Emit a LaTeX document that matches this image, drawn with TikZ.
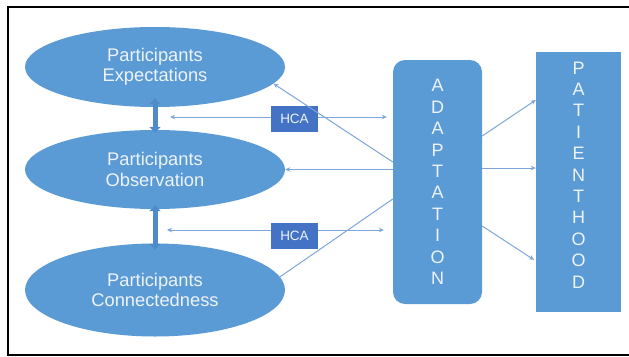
\documentclass[tikz,border=0pt]{standalone}
\usepackage{fontspec}
\setmainfont{Liberation Sans}
\usetikzlibrary{shapes.geometric,arrows.meta}
\definecolor{fillblue}{HTML}{5B9BD5}
\definecolor{hcablue}{HTML}{4472C4}
\definecolor{lineblue}{HTML}{7EA6D8}
\definecolor{dblblue}{HTML}{4F8ACB}
\definecolor{txtwhite}{HTML}{EEF3FA}
\begin{document}
\begin{tikzpicture}[x=1pt,y=-1pt,
  ell/.style={ellipse, fill=fillblue, minimum width=260pt, minimum height=80pt, inner sep=0pt, text=txtwhite, align=center, font=\fontsize{18.3}{20.5}\selectfont},
  hcabox/.style={rectangle, fill=hcablue, minimum width=47pt, minimum height=26pt, inner sep=0pt, text=txtwhite, font=\fontsize{13.5}{14}\selectfont},
  tallbox/.style={fill=fillblue, inner sep=0pt, text=txtwhite, align=center, font=\fontsize{18}{21.4}\selectfont},
  tallText/.style={inner sep=0pt, text=txtwhite, align=center, font=\fontsize{18}{21.4}\selectfont},
  conn/.style={draw=lineblue, line width=1pt},
  tip/.style={-{Stealth[length=5pt,width=4.5pt]}},
  tips/.style={{Stealth[length=5pt,width=4.5pt]}-{Stealth[length=5pt,width=4.5pt]}},
  dbl/.style={draw=dblblue, line width=5pt, {Triangle[length=6pt,width=11pt]}-{Triangle[length=6pt,width=11pt]}}
]
\useasboundingbox (0,0) rectangle (629,356);
\fill[white] (0,0) rectangle (629,356);
\draw[line width=2pt] (629,6.5) -- (7.5,6.5) -- (7.5,354.5) -- (629,354.5);

% nodes
\node[ell] (exp) at (155,67) {Participants\\Expectations};
\node[ell, minimum height=79pt] (obs) at (155,169.5) {Participants\\Observation};
\node[ell, minimum height=93pt] (con) at (155,290) {Participants\\Connectedness};
\node[tallbox, rounded corners=12pt, minimum width=89pt, minimum height=244pt] (adapt) at (437.5,182) {A\\D\\A\\P\\T\\A\\T\\I\\O\\N};
\node[tallbox, minimum width=85pt, minimum height=260pt] (pat) at (578.5,182) {};
\node[tallText] (pattext) at ([yshift=7pt]pat.center) {P\\A\\T\\I\\E\\N\\T\\H\\O\\O\\D};

% HCA arrows
\coordinate (h1l) at (170,117);
\coordinate (h2l) at (167,230);
\draw[conn, tips, shorten >=6pt] (h1l) -- (h1l -| adapt.west);
\draw[conn, tips, shorten >=9pt] (h2l) -- (h2l -| adapt.west);
\node[hcabox] (hca1) at (294.5,119) {HCA};
\node[hcabox] (hca2) at (294.5,235.5) {HCA};

% connectors
\draw[conn, tip] ([yshift=20pt]adapt.west) -- (exp.-8);
\draw[conn, tip] (adapt.west |- obs.east) -- (obs.east);
\draw[conn] (con.6) -- ([yshift=-17pt]adapt.west);
\draw[conn, tip] ([yshift=46pt]adapt.east) -- ([yshift=82pt]pat.west);
\draw[conn, tip] ([yshift=14pt]adapt.east) -- ([yshift=14pt]pat.west);
\draw[conn, tip, shorten >=2pt] ([yshift=-44pt]adapt.east) -- ([yshift=-79pt]pat.west);

% vertical double arrows
\draw[dbl, shorten <=-9pt, shorten >=-3pt] (exp.south) -- (obs.north);
\draw[dbl, shorten <=-4pt, shorten >=-6.5pt] (obs.south) -- (con.north);
\end{tikzpicture}
\end{document}
